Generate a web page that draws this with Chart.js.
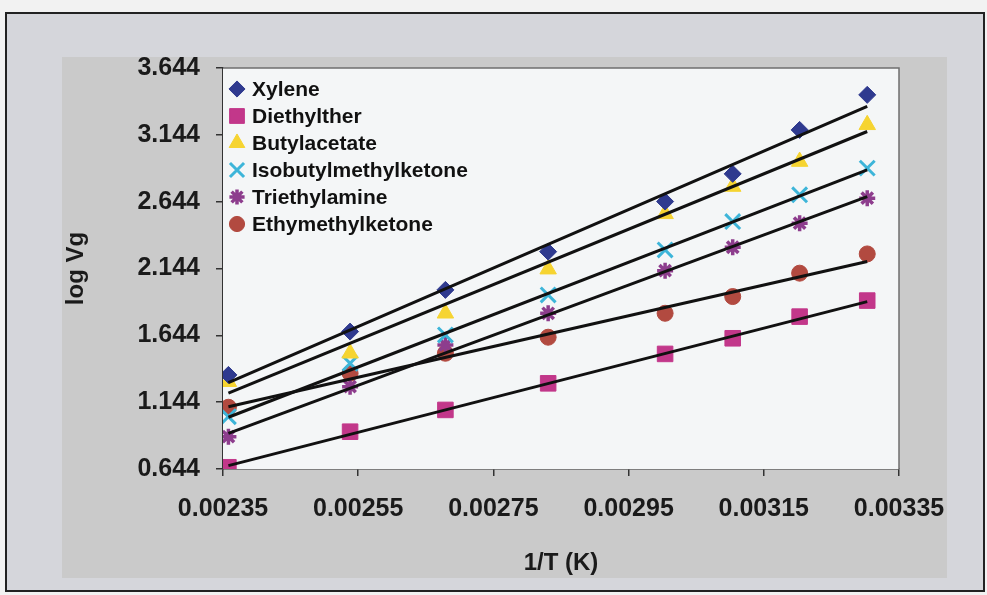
<!DOCTYPE html>
<html>
<head>
<meta charset="utf-8">
<script src="https://cdn.jsdelivr.net/npm/chart.js@4.4.1/dist/chart.umd.min.js"></script>
<style>
  html, body { margin: 0; padding: 0; background: #f2f2f2; }
  #wrap { position: relative; width: 987px; height: 595px; }
  #frame {
    position: absolute; left: 5px; top: 12px; width: 976px; height: 576px;
    border: 2px solid #222; background: #d5d6db;
  }
  #inner { position: absolute; left: 62px; top: 57px; width: 885px; height: 521px; background: #cacaca; }
  #chart { position: absolute; left: 0; top: 0; }
</style>
</head>
<body>
<div id="wrap">
  <div id="frame"></div>
  <div id="inner"></div>
  <canvas id="chart" width="987" height="595"></canvas>
</div>
<script>
// Data
const xValues = [0.002358, 0.002538, 0.002679, 0.002831, 0.003004, 0.003104, 0.003203, 0.003303];

const xylene = [1.348, 1.672, 1.984, 2.270, 2.645, 2.852, 3.181, 3.443];
const diethylther = [0.657, 0.923, 1.086, 1.285, 1.505, 1.622, 1.784, 1.904];
const butylacetate = [1.297, 1.510, 1.809, 2.139, 2.553, 2.757, 2.944, 3.219];
const isobutylmethylketone = [1.035, 1.435, 1.647, 1.946, 2.283, 2.495, 2.695, 2.895];
const triethylamine = [0.886, 1.260, 1.572, 1.809, 2.128, 2.303, 2.483, 2.670];
const ethymethylketone = [1.106, 1.360, 1.510, 1.630, 1.809, 1.934, 2.109, 2.253];

// Trend line ends (at first and last x), same series order
const trendStart = [1.290, 0.669, 1.211, 1.031, 0.911, 1.110];
const trendEnd = [3.356, 1.896, 3.169, 2.882, 2.682, 2.196];

const seriesNames = ["Xylene", "Diethylther", "Butylacetate", "Isobutylmethylketone", "Triethylamine", "Ethymethylketone"];
const xTicks = [0.00235, 0.00255, 0.00275, 0.00295, 0.00315, 0.00335];
const yTicks = [0.644, 1.144, 1.644, 2.144, 2.644, 3.144, 3.644];

const FONT = "'Liberation Sans', Arial, sans-serif";

// marker styles
const markers = [
  { style: "rectRot", color: "#2f3a8f", radius: 8.5, width: 1 },
  { style: "rect", color: "#c2378a", radius: 11, width: 1 },
  { style: "triangle", color: "#f6d431", radius: 9.5, width: 1 },
  { style: "crossRot", color: "#3db5d9", radius: 10.5, width: 3 },
  { style: "star", color: "#8d3d8d", radius: 8, width: 3.5 },
  { style: "circle", color: "#b24a40", radius: 8, width: 1 },
];

const allSeries = [xylene, diethylther, butylacetate, isobutylmethylketone, triethylamine, ethymethylketone];

const datasets = [];
allSeries.forEach((vals, i) => {
  datasets.push({
    type: "scatter",
    label: seriesNames[i],
    data: vals.map((v, j) => ({ x: xValues[j], y: v })),
    pointStyle: markers[i].style,
    pointRadius: markers[i].radius,
    pointHoverRadius: markers[i].radius,
    backgroundColor: markers[i].color,
    borderColor: markers[i].color,
    pointBorderWidth: markers[i].width,
    borderWidth: markers[i].width,
    order: 2,
  });
});
allSeries.forEach((vals, i) => {
  datasets.push({
    type: "line",
    label: "trend",
    data: [
      { x: xValues[0], y: trendStart[i] },
      { x: xValues[xValues.length - 1], y: trendEnd[i] },
    ],
    borderColor: "#111",
    borderWidth: 3,
    pointRadius: 0,
    fill: false,
    order: 1,
  });
});

// plot area background and top/right border
const plotBox = {
  id: "plotBox",
  beforeDatasetsDraw(chart) {
    const { ctx, chartArea } = chart;
    ctx.save();
    ctx.fillStyle = "#f4f6f7";
    ctx.fillRect(chartArea.left, chartArea.top, chartArea.right - chartArea.left, chartArea.bottom - chartArea.top);
    ctx.strokeStyle = "#6f6f6f";
    ctx.lineWidth = 1.5;
    ctx.beginPath();
    ctx.moveTo(chartArea.left, chartArea.top);
    ctx.lineTo(chartArea.right, chartArea.top);
    ctx.lineTo(chartArea.right, chartArea.bottom);
    ctx.stroke();
    ctx.restore();
  },
};

// legend drawn inside the plot, top-left
const insideLegend = {
  id: "insideLegend",
  afterDraw(chart) {
    const { ctx, chartArea } = chart;
    const x0 = chartArea.left + 14;
    const y0 = chartArea.top + 21;
    ctx.save();
    ctx.font = "bold 21px " + FONT;
    ctx.textBaseline = "middle";
    seriesNames.forEach((name, i) => {
      const y = y0 + i * 27;
      const m = markers[i];
      ctx.fillStyle = m.color;
      ctx.strokeStyle = m.color;
      ctx.lineWidth = m.width;
      Chart.helpers.drawPoint(ctx, { pointStyle: m.style, radius: m.radius * 0.95, borderWidth: m.width, rotation: 0 }, x0, y);
      ctx.fillStyle = "#111";
      ctx.fillText(name, x0 + 15, y + 1);
    });
    ctx.restore();
  },
};

new Chart(document.getElementById("chart"), {
  type: "scatter",
  data: { datasets },
  plugins: [plotBox, insideLegend],
  options: {
    responsive: false,
    animation: false,
    layout: { padding: { left: 48, top: 68, right: 88, bottom: 8 } },
    scales: {
      x: {
        type: "linear",
        min: 0.00235,
        max: 0.00335,
        afterBuildTicks: (axis) => { axis.ticks = xTicks.map((v) => ({ value: v })); },
        afterFit: (axis) => { axis.height = 118; },
        grid: { drawOnChartArea: false, drawTicks: true, tickLength: 7, color: "#333", lineWidth: 1.5 },
        border: { display: true, color: "#333", width: 1.5 },
        ticks: {
          color: "#1a1a1a",
          font: { family: FONT, size: 25, weight: "bold" },
          padding: 18,
          maxRotation: 0,
          callback: (v) => v.toFixed(5),
        },
        title: {
          display: true,
          text: "1/T (K)",
          color: "#1a1a1a",
          font: { family: FONT, size: 24, weight: "bold" },
          padding: { top: 0, bottom: 9 },
        },
      },
      y: {
        type: "linear",
        min: 0.644,
        max: 3.644,
        afterBuildTicks: (axis) => { axis.ticks = yTicks.map((v) => ({ value: v })); },
        afterFit: (axis) => { axis.width = 175; },
        grid: { drawOnChartArea: false, drawTicks: true, tickLength: 7, color: "#333", lineWidth: 1.5 },
        border: { display: true, color: "#333", width: 1.5 },
        ticks: {
          color: "#1a1a1a",
          font: { family: FONT, size: 25, weight: "bold" },
          padding: 16,
          callback: (v) => v.toFixed(3),
        },
        title: {
          display: true,
          text: "log Vg",
          color: "#1a1a1a",
          font: { family: FONT, size: 24, weight: "bold" },
          padding: { top: 14, bottom: 0 },
        },
      },
    },
    plugins: {
      tooltip: { enabled: false },
      legend: { display: false },
    },
  },
});
</script>
</body>
</html>
